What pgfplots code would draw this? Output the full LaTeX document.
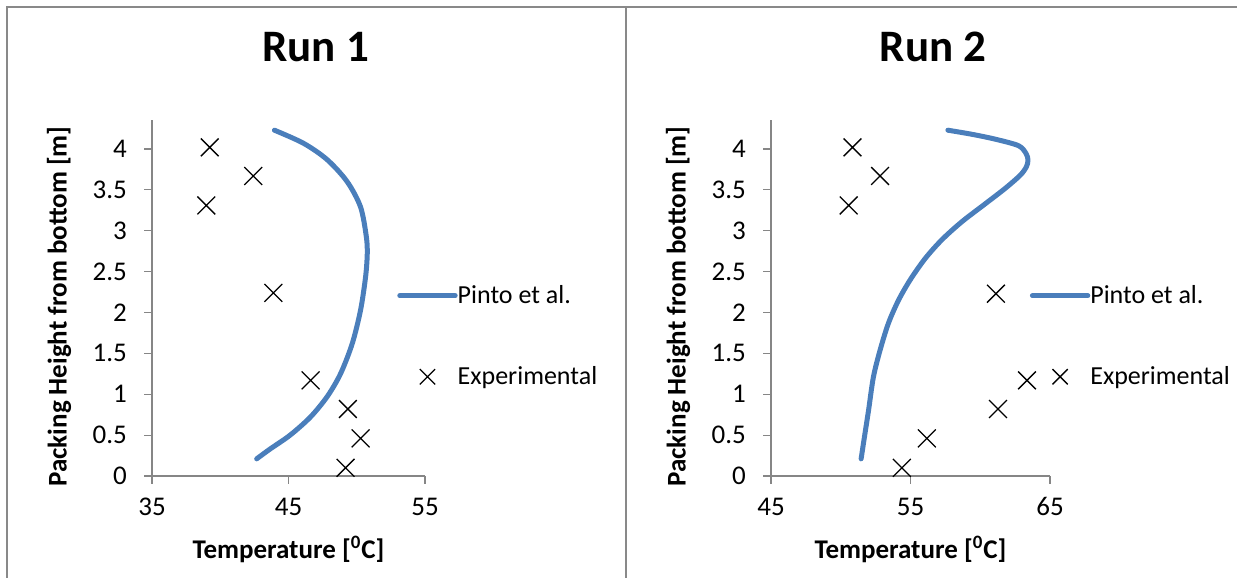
\documentclass[border=0pt]{standalone}
\usepackage{fontspec}
\setmainfont{Carlito}
\usepackage{pgfplots}
\pgfplotsset{compat=1.18}
\definecolor{pinto}{RGB}{74,126,187}
\definecolor{axgray}{RGB}{134,134,134}
\definecolor{framegray}{RGB}{137,137,137}
\pgfplotsset{
  runaxis/.style={
    scale only axis, height=177.8pt,
    ymin=0, ymax=4.35, ytick={0,0.5,...,4},
    axis lines*=left,
    axis line style={draw=axgray, line width=0.6pt, -},
    tick align=outside, major tick length=4pt,
    tick style={draw=axgray, line width=0.6pt},
    /pgf/number format/assume math mode=true,
    tick label style={font=\fontsize{13.5}{16}\selectfont},
    xticklabel style={inner sep=0pt, anchor=base, yshift=-16pt},
    yticklabel style={inner sep=0pt, anchor=east, xshift=-8.35pt},
    label style={font=\bfseries\fontsize{13.5}{16}\selectfont},
    title style={font=\bfseries\fontsize{22.5}{27}\selectfont, anchor=base, inner sep=0pt},
    xlabel style={at={(axis description cs:0.5,-0.2334)}, anchor=base, inner sep=0pt},
    clip=false,
    legend cell align=left,
    legend image code/.code={\draw[mark repeat=2,mark phase=2,##1] plot coordinates {(0pt,0.6pt) (13.85pt,0.6pt) (27.7pt,0.6pt)};},
    legend image post style={mark size=5.4pt},
    xlabel={Temperature [\textsuperscript{0}C]},
    ylabel={Packing Height from bottom [m]},
  },
  pintostyle/.style={pinto, line width=2.5pt, line cap=round, line join=round, smooth, no markers},
  expstyle/.style={black, only marks, mark=x, mark size=6.3pt, mark options={line width=0.65pt}},
}
\begin{document}
\begin{tikzpicture}
\useasboundingbox (0,0) rectangle (618.5pt,289pt);
\draw[framegray, line width=0.85pt] (3.35pt,0pt) -- (3.35pt,285.35pt) -- (312.85pt,285.35pt);
\draw[framegray, line width=0.85pt] (312.85pt,0pt) -- (312.85pt,285.6pt) -- (618.5pt,285.6pt);

\begin{axis}[runaxis,
  at={(76pt,51pt)}, anchor=south west, width=136.5pt,
  xmin=35, xmax=55, xtick={35,45,55},
  title={Run 1},
  title style={at={(axis description cs:0.600,1.1325)}},
  ylabel style={at={(axis description cs:-0.3407,0.4767)}, anchor=center, inner sep=0pt},
  legend style={at={(axis description cs:0.8985,0.540)}, anchor=north west, draw=none, fill=none,
    inner sep=0pt, outer sep=0pt, row sep=27.5pt, column sep=0pt,
    font=\fontsize{13}{16}\selectfont,
    nodes={inner sep=0pt, text height=10pt, text depth=3pt}},
]
\addplot[pintostyle] coordinates {
(43.97,4.23) (46.1,4.07) (47.83,3.87) (49.3,3.6) (50.28,3.29) (50.7,2.93) (50.77,2.72)
(50.65,2.44) (50.28,2.03) (49.67,1.62) (48.81,1.25) (47.83,0.97) (46.6,0.72) (45.12,0.50)
(43.65,0.33) (42.67,0.21)};
\addlegendentry{Pinto et al.}
\addplot[expstyle] coordinates {
(39.23,4.02) (42.42,3.67) (38.98,3.31) (43.89,2.24) (46.62,1.17) (49.35,0.82) (50.28,0.46) (49.18,0.10)};
\addlegendentry{Experimental}
\end{axis}

\begin{axis}[runaxis,
  at={(385.5pt,51pt)}, anchor=south west, width=139.5pt,
  xmin=45, xmax=65, xtick={45,55,65},
  title={Run 2},
  title style={at={(axis description cs:0.5806,1.1325)}},
  ylabel style={at={(axis description cs:-0.3333,0.4767)}, anchor=center, inner sep=0pt},
  legend style={at={(axis description cs:0.928,0.540)}, anchor=north west, draw=none, fill=none,
    inner sep=0pt, outer sep=0pt, row sep=27.5pt, column sep=0pt,
    font=\fontsize{13}{16}\selectfont,
    nodes={inner sep=0pt, text height=10pt, text depth=3pt}},
]
\addplot[pintostyle] coordinates {
(57.68,4.23) (59.4,4.18) (61.08,4.12) (62.75,4.04) (63.3,3.94) (63.42,3.86) (63.3,3.78)
(62.87,3.68) (61.8,3.52) (60.36,3.33) (58.68,3.11) (57.25,2.89) (56.05,2.66) (54.98,2.40)
(54.14,2.15) (53.42,1.87) (52.82,1.54) (52.34,1.21) (51.99,0.80) (51.7,0.48) (51.46,0.21)};
\addlegendentry{Pinto et al.}
\addplot[expstyle] coordinates {
(50.84,4.02) (52.82,3.67) (50.57,3.31) (61.12,2.23) (63.35,1.17) (61.27,0.82) (56.17,0.46) (54.38,0.10)};
\addlegendentry{Experimental}
\end{axis}
\end{tikzpicture}
\end{document}
